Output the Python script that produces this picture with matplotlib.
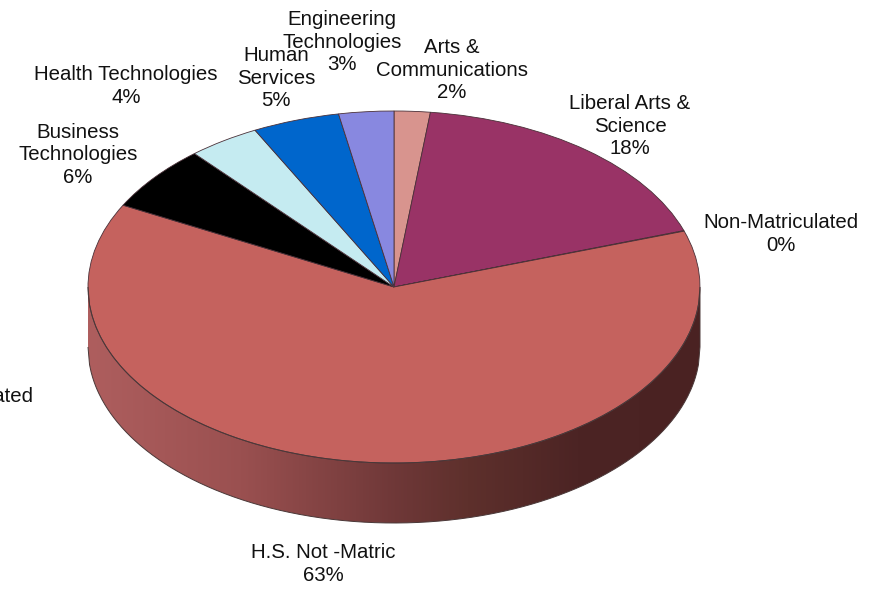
import numpy as np
import matplotlib
matplotlib.use("Agg")
import matplotlib.pyplot as plt
from matplotlib.colors import LinearSegmentedColormap
from matplotlib.path import Path
from matplotlib.patches import PathPatch

plt.rcParams['font.family'] = ['Liberation Sans', 'DejaVu Sans']

categories = ["Arts &\nCommunications", "Liberal Arts &\nScience", "Non-Matriculated",
              "H.S. Not -Matric", "Business\nTechnologies", "Health Technologies",
              "Human\nServices", "Engineering\nTechnologies"]
values = [1.9, 17.9, 0.05, 62.8, 6.0, 3.8, 4.6, 2.9]
percent_labels = ["2%", "18%", "0%", "63%", "6%", "4%", "5%", "3%"]
colors = ["#D8948E", "#993366", "#C5625E", "#C5625E", "#000000", "#C5EBF1", "#0066CC", "#8888E0"]
label_px = [(452, 70), (630, 126), (781, 234), (323, 564), (78, 155), (126, 86), (276, 78), (342, 42)]
side_stops = [(0.0, "#AE5E5E"), (0.25, "#9A5050"), (0.5, "#6F3838"), (0.62, "#5E302C"),
              (0.8, "#4C2424"), (1.0, "#4A2222")]

W, H = 880, 589
CX, CY, RX, RY, DEPTH = 394, 287, 306, 176, 60

fig = plt.figure(figsize=(W / 100, H / 100), dpi=100)
ax = fig.add_axes([0, 0, 1, 1])

def px(x, y):
    return (x - CX) / RX, (CY - y) / RY

d = DEPTH / RY
xs = np.linspace(-1, 1, 400)
lower = -np.sqrt(1 - xs ** 2)
verts = np.column_stack([np.r_[xs, xs[::-1]], np.r_[lower, (lower - d)[::-1]]])
clip = PathPatch(Path(verts), facecolor="none", edgecolor="#4A3838", lw=0.7, zorder=2)
ax.add_patch(clip)
cmap = LinearSegmentedColormap.from_list("side", side_stops)
img = ax.imshow(np.linspace(0, 1, 256)[None, :], cmap=cmap, extent=(-1, 1, -1 - d, 0),
                aspect="auto", zorder=1)
img.set_clip_path(clip)

ax.pie(values, colors=colors, startangle=90, counterclock=False, radius=1, center=(0, 0),
       wedgeprops=dict(edgecolor="#4A3038", linewidth=0.6), frame=True, normalize=True)
ax.set_aspect("auto")
ax.set_xlim(-CX / RX, (W - CX) / RX)
ax.set_ylim(-(H - CY) / RY, CY / RY)
ax.axis("off")

for cat, pct, (x, y) in zip(categories, percent_labels, label_px):
    tx, ty = px(x, y)
    ax.text(tx, ty, cat + "\n" + pct, ha="center", va="center", fontsize=14.7,
            linespacing=1.23, color="#111111", zorder=5)

tx, ty = px(33, 396)
ax.text(tx, ty, "Matriculated", ha="right", va="center", fontsize=14.7, color="#111111", zorder=5)

fig.savefig("out.png", dpi=100)
